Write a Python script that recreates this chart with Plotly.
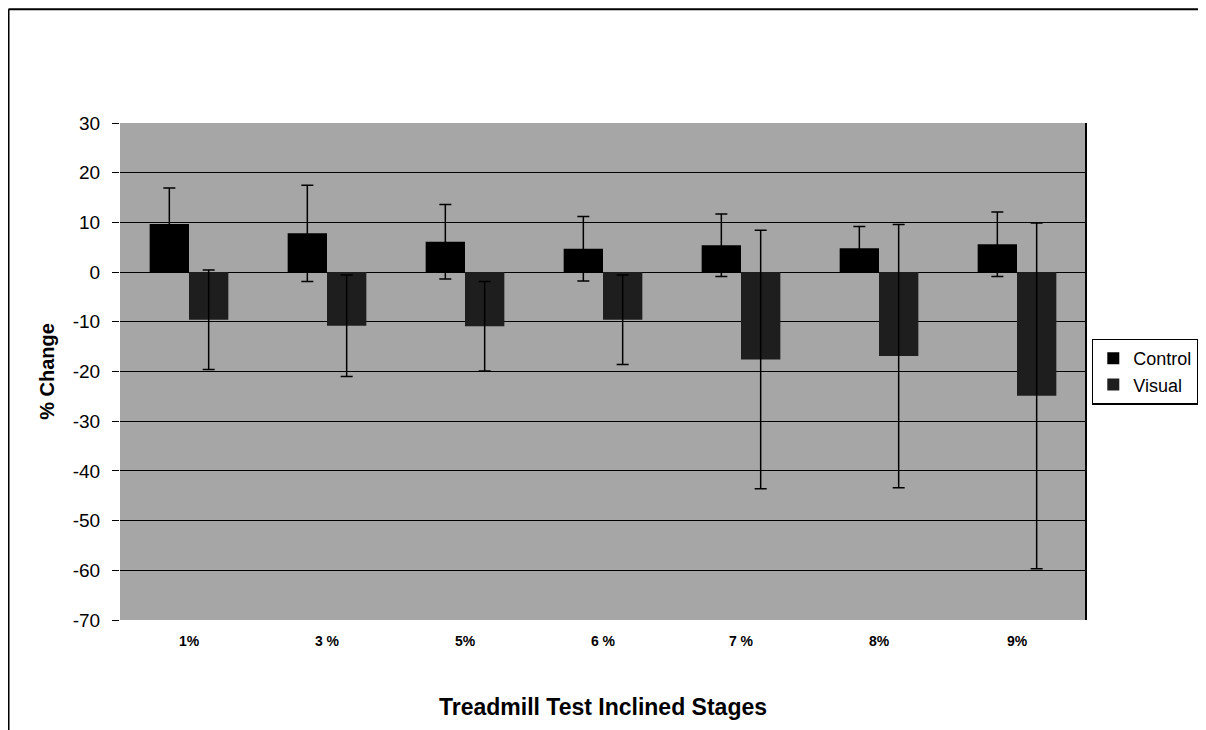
import plotly.graph_objects as go

stages = ["1%", "3 %", "5%", "6 %", "7 %", "8%", "9%"]
control = [9.7, 7.8, 6.1, 4.7, 5.4, 4.8, 5.6]
control_err = [7.2, 9.7, 7.5, 6.5, 6.3, 4.4, 6.5]
visual = [-9.6, -10.8, -10.9, -9.6, -17.6, -16.9, -24.9]
visual_err = [10.0, 10.2, 9.0, 9.0, 26.0, 26.5, 34.8]
y_ticks = [30, 20, 10, 0, -10, -20, -30, -40, -50, -60, -70]
y_tick_text = ["30", "20", "10", "0", "-10", "-20", "-30", "-40", "-50", "-60", "-70"]

narrow = "Liberation Sans Narrow, Arial Narrow, Liberation Sans, Arial"
regular = "Liberation Sans, Arial"

fig = go.Figure()
fig.add_trace(go.Bar(
    name="Control", x=stages, y=control,
    marker=dict(color="#000000", line=dict(width=0)),
    error_y=dict(type="data", array=control_err, visible=True,
                 color="#000000", thickness=1.5, width=6),
))
fig.add_trace(go.Bar(
    name="Visual", x=stages, y=visual,
    marker=dict(color="#1e1e1e", line=dict(width=0)),
    error_y=dict(type="data", array=visual_err, visible=True,
                 color="#000000", thickness=1.5, width=6),
))

fig.update_layout(
    width=1206, height=730,
    margin=dict(l=112, r=128, t=115, b=118),
    paper_bgcolor="#ffffff",
    plot_bgcolor="#a6a6a6",
    barmode="group",
    bargap=0.43,
    bargroupgap=0,
    showlegend=True,
    legend=dict(
        x=1.006, y=0.5, xanchor="left", yanchor="middle",
        bgcolor="#ffffff", bordercolor="#000000", borderwidth=1.5,
        font=dict(family=regular, size=18, color="#000000"),
        itemwidth=30, tracegroupgap=0,
    ),
    xaxis=dict(
        showgrid=False, zeroline=False,
        showline=False,
        ticks="outside", ticklen=8, tickcolor="rgba(0,0,0,0)",
        tickfont=dict(family=narrow, size=14, color="#000000", weight="bold"),
        title=dict(text="Treadmill Test Inclined Stages",
                   font=dict(family=narrow, size=23, color="#000000", weight="bold"),
                   standoff=51),
    ),
    yaxis=dict(
        range=[-70, 30],
        tickmode="array", tickvals=y_ticks, ticktext=y_tick_text,
        showgrid=True, gridcolor="#000000", gridwidth=1,
        zeroline=False,
        showline=False,
        ticks="outside", ticklen=7, tickcolor="#000000",
        ticklabelstandoff=8,
        tickfont=dict(family=regular, size=19, color="#000000"),
        title=dict(text="% Change",
                   font=dict(family=narrow, size=20, color="#000000", weight="bold"),
                   standoff=12),
    ),
    shapes=[
        dict(type="line", xref="paper", yref="paper", x0=1.0, x1=1.0, y0=0, y1=1,
             line=dict(color="#000000", width=2)),
        dict(type="line", xref="paper", yref="paper", x0=-0.1154, x1=-0.1154,
             y0=-0.25, y1=1.229, line=dict(color="#000000", width=2)),
        dict(type="line", xref="paper", yref="paper", x0=-0.1154, x1=1.14,
             y0=1.229, y1=1.229, line=dict(color="#000000", width=2)),
    ],
)

fig.write_html("out.html")
